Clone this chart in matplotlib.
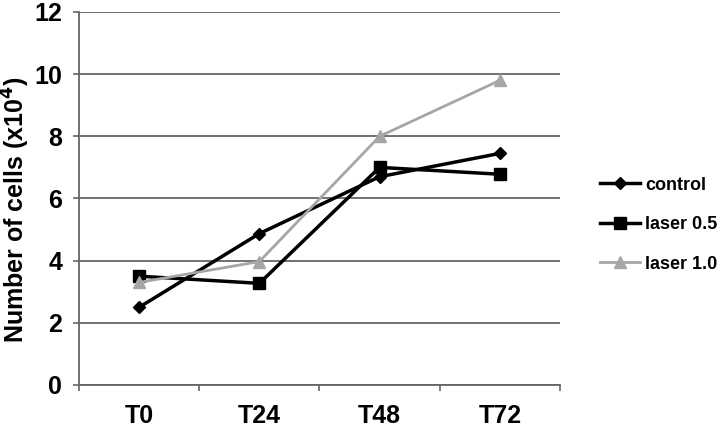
import matplotlib
matplotlib.use("Agg")
import matplotlib.pyplot as plt
import numpy as np

plt.rcParams['font.family'] = ['Liberation Sans', 'DejaVu Sans']

# data
times = ["T0", "T24", "T48", "T72"]
control = [2.5, 4.87, 6.7, 7.45]
laser05 = [3.5, 3.27, 7.0, 6.78]
laser10 = [3.3, 3.97, 8.0, 9.8]

fig = plt.figure(figsize=(7.2, 4.28), dpi=100)
ax = fig.add_axes([0.1097, 0.1005, 0.668, 0.8715])

x = np.arange(len(times))
ax.plot(x, control, color='black', lw=2.5, marker='D', ms=6, label='control')
ax.plot(x, laser05, color='black', lw=2.5, marker='s', ms=8, label='laser 0.5')
ax.plot(x, laser10, color='#a6a6a6', lw=2.0, marker='^', ms=8, label='laser 1.0')

ax.set_xlim(-0.5, 3.5)
ax.set_ylim(0, 12)
ax.set_yticks(range(0, 13, 2))
ax.set_xticks(x)
ax.set_xticklabels(times)
ax.set_xticks(np.arange(-0.5, 4, 1), minor=True)
ax.tick_params(axis='x', which='major', length=0, pad=14, labelsize=18)
ax.tick_params(axis='x', which='minor', length=4, width=1.2, color='#666666', direction='out')
ax.tick_params(axis='y', length=4, width=1.2, color='#666666', pad=8, labelsize=18)
for lab in ax.get_xticklabels() + ax.get_yticklabels():
    lab.set_fontweight('bold')

ax.grid(axis='y', color='#666666', lw=1.3)
ax.set_axisbelow(True)
for s in ['top', 'right']:
    ax.spines[s].set_visible(False)
for s in ['left', 'bottom']:
    ax.spines[s].set_color('#666666')
    ax.spines[s].set_linewidth(1.3)

ax.set_ylabel("Number of cells (x10$^{\\mathbf{4}}$)", fontsize=18, fontweight='bold')
ax.yaxis.set_label_coords(-0.097, 0.47)

leg = ax.legend(loc='center left', bbox_to_anchor=(1.05, 0.43), frameon=False,
                fontsize=13, handlelength=2.2, labelspacing=1.25, handletextpad=0.3)
for t in leg.get_texts():
    t.set_fontweight('bold')

fig.savefig("out.png", dpi=100)
